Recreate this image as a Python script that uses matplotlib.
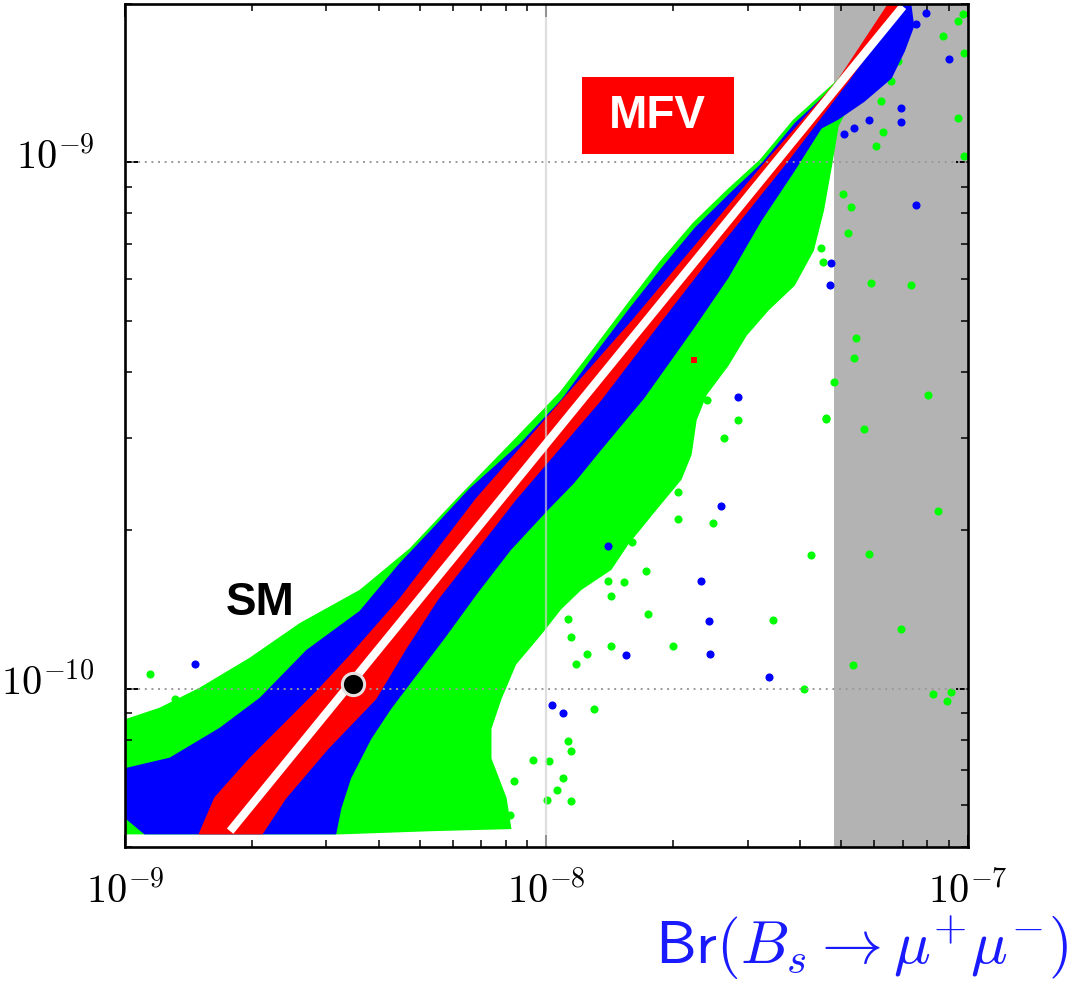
import numpy as np
import matplotlib
matplotlib.use("Agg")
import matplotlib.pyplot as plt
import matplotlib.transforms as mtransforms
from matplotlib.patches import Rectangle
from matplotlib.ticker import LogLocator, NullFormatter, FuncFormatter

plt.rcParams['mathtext.fontset'] = 'cm'

# ---------------- data (log10 of the values) ----------------
# outer (green) scan region boundary
green_logx = [-7.176, -7.230, -7.309, -7.413, -7.492, -7.570, -7.651, -7.729, -7.808, -7.888,
              -7.967, -8.062, -8.204, -8.323, -8.442, -8.584, -8.703, -8.822, -8.917, -9.010,
              -9.010, -8.489, -8.276, -8.086, -8.097, -8.133, -8.133, -8.109, -8.074, -8.014,
              -7.967, -7.919, -7.848, -7.808, -7.741, -7.682, -7.658, -7.646, -7.622, -7.570,
              -7.527, -7.475, -7.413, -7.368, -7.344, -7.325, -7.309, -7.278, -7.230, -7.195,
              -7.147, -7.131]
green_logy = [-8.680, -8.765, -8.845, -8.920, -8.996, -9.053, -9.116, -9.189, -9.271, -9.356,
              -9.438, -9.517, -9.634, -9.735, -9.814, -9.877, -9.943, -10.000, -10.038, -10.063,
              -10.275, -10.275, -10.269, -10.265, -10.208, -10.133, -10.076, -10.019, -9.953, -9.896,
              -9.848, -9.811, -9.773, -9.725, -9.659, -9.602, -9.555, -9.489, -9.441, -9.385,
              -9.328, -9.280, -9.233, -9.167, -9.091, -9.006, -8.930, -8.883, -8.854, -8.816,
              -8.741, -8.680]

# middle (blue) region boundary
blue_logx = [-7.166, -7.226, -7.304, -7.409, -7.487, -7.565, -7.646, -7.725, -7.803, -7.884,
             -7.962, -8.062, -8.181, -8.276, -8.347, -8.442, -8.568, -8.679, -8.774, -8.893,
             -9.010, -9.010, -8.953, -8.501, -8.489, -8.466, -8.418, -8.371, -8.323, -8.245,
             -8.164, -8.086, -7.998, -7.936, -7.872, -7.770, -7.651, -7.570, -7.492, -7.413,
             -7.349, -7.309, -7.247, -7.183, -7.152, -7.130, -7.140]
blue_logy = [-8.680, -8.769, -8.848, -8.926, -9.002, -9.061, -9.125, -9.201, -9.280, -9.366,
             -9.451, -9.536, -9.621, -9.703, -9.763, -9.854, -9.928, -10.019, -10.076, -10.133,
             -10.155, -10.237, -10.275, -10.275, -10.227, -10.170, -10.095, -10.038, -9.987, -9.905,
             -9.816, -9.735, -9.659, -9.608, -9.545, -9.447, -9.313, -9.218, -9.110, -9.015,
             -8.934, -8.917, -8.883, -8.839, -8.788, -8.741, -8.680]

# inner (red) MFV region boundary
red_logx = [-7.172, -7.308, -7.475, -7.675, -7.793, -7.960, -8.166, -8.347, -8.461, -8.542,
            -8.608, -8.703, -8.786, -8.822,
            -8.675, -8.620, -8.520, -8.406, -8.335, -8.259, -8.074, -7.872, -7.727, -7.618,
            -7.428, -7.285, -7.140]
red_logy = [-8.680, -8.845, -8.996, -9.186, -9.299, -9.451, -9.640, -9.830, -9.934, -10.004,
            -10.057, -10.133, -10.208, -10.275,
            -10.275, -10.208, -10.114, -10.019, -9.924, -9.830, -9.640, -9.451, -9.299, -9.186,
            -8.996, -8.845, -8.680]

# isolated green points
green_pts_logx = [-7.012, -7.024, -7.059, -7.010, -7.166, -7.183, -7.207, -7.024, -7.202, -7.219,
                  -7.010, -7.297, -7.278, -7.285, -7.230, -7.135, -7.349, -7.344, -7.266, -7.271,
                  -7.318, -7.095, -7.337, -7.247, -7.071, -7.373, -7.235, -7.159, -7.273, -7.390,
                  -7.083, -7.050, -7.040,
                  -7.618, -7.546, -7.580, -7.337, -7.687, -7.687, -7.606, -7.796, -7.765, -7.855,
                  -7.817, -7.848, -7.758, -7.463, -7.848, -7.701, -7.903, -7.931, -7.948, -7.943,
                  -7.888, -7.948, -7.943, -8.031, -7.995, -7.960, -8.078, -7.974, -7.998, -7.943,
                  -8.086, -8.114, -8.941, -8.881]
green_pts_logy = [-8.718, -8.731, -8.759, -8.792, -8.807, -8.845, -8.883, -8.915, -8.943, -8.968,
                  -8.987, -9.059, -9.085, -9.134, -9.229, -9.233, -9.163, -9.189, -9.333, -9.371,
                  -9.417, -9.441, -9.487, -9.506, -9.663, -9.746, -9.744, -9.886, -9.955, -10.000,
                  -10.011, -10.023, -10.006,
                  -9.451, -9.489, -9.523, -9.485, -9.627, -9.678, -9.686, -9.722, -9.777, -9.795,
                  -9.797, -9.824, -9.858, -9.869, -9.919, -9.919, -9.934, -9.953, -9.867, -9.902,
                  -10.038, -10.100, -10.119, -10.136, -10.138, -10.170, -10.176, -10.193, -10.212, -10.214,
                  -10.241, -10.233, -9.972, -10.019]

# isolated blue points
blue_pts_logx = [-7.100, -7.124, -7.045, -7.159, -7.159, -7.235, -7.271, -7.295, -7.124, -7.325,
                 -7.328, -7.546, -7.587, -7.853, -7.634, -7.615, -7.812, -7.611, -7.473, -7.986,
                 -7.960, -8.834]
blue_pts_logy = [-8.716, -8.737, -8.803, -8.896, -8.924, -8.920, -8.934, -8.945, -9.080, -9.191,
                 -9.233, -9.445, -9.653, -9.729, -9.795, -9.871, -9.936, -9.934, -9.977, -10.032,
                 -10.047, -9.953]

# isolated red point
red_pts_logx = [-7.651]
red_pts_logy = [-9.375]

# MFV relation (white line) end points and SM point
mfv_line_x = [1.776e-9, 7.01e-8]
mfv_line_y = [5.36e-11, 1.98e-9]
sm_x = [3.48e-9]
sm_y = [1.02e-10]

# excluded region (gray band)
excluded_xmin = 4.8e-8

xlim = (1e-9, 1e-7)
ylim = (5e-11, 2e-9)

GREEN = '#00ff00'
BLUE = '#0000ff'
RED = '#ff0000'


def lin(v):
    return np.power(10.0, np.asarray(v))


fig = plt.figure(figsize=(10.71, 9.95), dpi=100)
ax = fig.add_axes([0.1167, 0.1477, 0.7871, 0.8472])
ax.set_xscale('log')
ax.set_yscale('log')
ax.set_xlim(*xlim)
ax.set_ylim(*ylim)

ax.axvspan(excluded_xmin, xlim[1], color='#b3b3b3', lw=0, zorder=0)

ax.fill(lin(green_logx), lin(green_logy), color=GREEN, lw=1.5, zorder=1)
ax.scatter(lin(green_pts_logx), lin(green_pts_logy), s=34, color=GREEN, marker='o', lw=0, zorder=1.2)
ax.fill(lin(blue_logx), lin(blue_logy), color=BLUE, lw=1.5, zorder=2)
ax.scatter(lin(blue_pts_logx), lin(blue_pts_logy), s=34, color=BLUE, marker='o', lw=0, zorder=2.2)
ax.fill(lin(red_logx), lin(red_logy), color=RED, lw=1.5, zorder=3)
ax.scatter(lin(red_pts_logx), lin(red_pts_logy), s=25, color=RED, marker='s', lw=0, zorder=3.2)

# grid lines
for yv in (1e-9, 1e-10):
    ax.axhline(yv, color='#9a9a9a', lw=1.4, ls=(0, (1, 2.4)), zorder=4)
ax.axvline(1e-8, color='#d0d0d0', lw=1.6, alpha=0.7, zorder=4)

# MFV line and SM point
ax.plot(mfv_line_x, mfv_line_y, color='white', lw=6, solid_capstyle='butt', zorder=5)
ax.plot(sm_x, sm_y, 'o', color='black', ms=16, mec='#e8e0e0', mew=2.2, zorder=6)

# labels
ax.add_patch(Rectangle((0.542, 0.822), 0.1805, 0.0915, transform=ax.transAxes,
                       facecolor=RED, edgecolor='none', zorder=7))
ax.text(0.632, 0.868, 'MFV', transform=ax.transAxes, ha='center', va='center',
        color='white', fontsize=33, fontweight='bold', family='Liberation Sans', zorder=8)
ax.text(0.160, 0.291, 'SM', transform=ax.transAxes, ha='center', va='center',
        color='black', fontsize=33, fontweight='bold', family='Liberation Sans', zorder=8)

# ticks
pow_fmt = FuncFormatter(lambda v, pos: r'$10^{%d}$' % int(round(np.log10(v))))
ax.xaxis.set_major_locator(LogLocator(base=10, numticks=10))
ax.yaxis.set_major_locator(LogLocator(base=10, numticks=10))
ax.xaxis.set_minor_locator(LogLocator(base=10, subs=np.arange(2, 10), numticks=20))
ax.yaxis.set_minor_locator(LogLocator(base=10, subs=np.arange(2, 10), numticks=20))
ax.xaxis.set_major_formatter(pow_fmt)
ax.yaxis.set_major_formatter(pow_fmt)
ax.xaxis.set_minor_formatter(NullFormatter())
ax.yaxis.set_minor_formatter(NullFormatter())
ax.tick_params(which='both', direction='in', top=True, right=True, colors='black')
ax.tick_params(which='major', length=9, width=1.4, labelsize=29)
ax.tick_params(which='minor', length=5, width=1.1)
ax.tick_params(axis='y', which='major', pad=22)
ax.tick_params(axis='x', which='major', pad=17)
for sp in ax.spines.values():
    sp.set_linewidth(1.9)
    sp.set_color('black')
    sp.set_zorder(9)

# y tick labels sit a little above their ticks in the reference
shift = mtransforms.ScaledTranslation(0, -3.6 / 72, fig.dpi_scale_trans)
for lbl in ax.yaxis.get_majorticklabels():
    lbl.set_verticalalignment('baseline')
    lbl.set_transform(lbl.get_transform() + shift)

fig.text(0.9975, 0.013, r'$\mathsf{Br}(B_s \rightarrow \mu^{+}\mu^{-})$', ha='right', va='bottom',
         color='#1a1aff', fontsize=44)

fig.savefig('out.png', dpi=100)
